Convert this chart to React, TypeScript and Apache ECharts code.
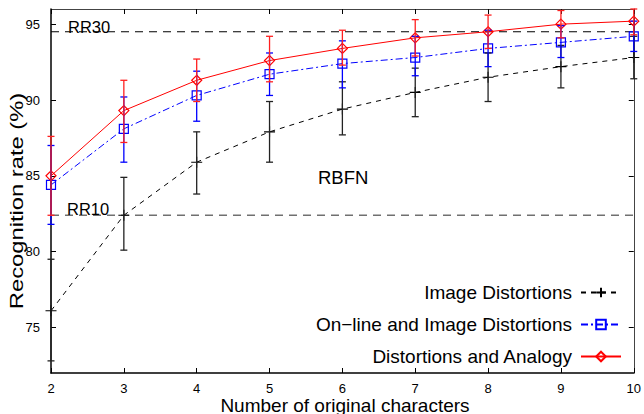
import React, { useEffect, useRef } from "react";
import * as echarts from "echarts";

const xs = [2, 3, 4, 5, 6, 7, 8, 9, 10];
const yTicks = [75, 80, 85, 90, 95];

const imgMean = [76.1, 82.4, 85.9, 87.9, 89.4, 90.5, 91.5, 92.2, 92.8];
const imgLo = [72.8, 80.1, 83.8, 85.9, 87.7, 88.9, 89.9, 90.8, 91.4];
const imgHi = [79.5, 84.9, 87.9, 89.9, 91.2, 92.1, 93.1, 93.6, 94.2];

const onlMean = [84.4, 88.1, 90.3, 91.7, 92.4, 92.8, 93.4, 93.8, 94.2];
const onlLo = [81.8, 85.9, 88.6, 90.3, 90.8, 91.6, 92.2, 92.8, 93.2];
const onlHi = [87.0, 90.2, 91.9, 93.1, 93.9, 94.2, 94.6, 94.9, 95.2];

const anaMean = [85.0, 89.3, 91.3, 92.6, 93.4, 94.1, 94.5, 95.0, 95.2];
const anaLo = [82.4, 87.2, 89.9, 91.2, 92.3, 92.9, 93.4, 94.1, 94.3];
const anaHi = [87.6, 91.3, 92.7, 94.2, 94.6, 95.3, 95.6, 95.9, 96.0];

const rr30 = 94.5;
const rr10 = 82.4;

const names = [
  "Image Distortions",
  "On\u2212line and Image Distortions",
  "Distortions and Analogy",
];

const FONT = "'Liberation Sans', Arial, Helvetica, sans-serif";

function errSeries(lo: number[], hi: number[], color: string, z: number) {
  return {
    type: "custom",
    clip: false,
    z,
    silent: true,
    renderItem: (_p: any, api: any) => {
      const x = api.value(0);
      const a = api.coord([x, api.value(1)]);
      const b = api.coord([x, api.value(2)]);
      const w = 3.5;
      const st = { stroke: color, lineWidth: 1.3 };
      return {
        type: "group",
        children: [
          { type: "line", shape: { x1: a[0], y1: a[1], x2: b[0], y2: b[1] }, style: st },
          { type: "line", shape: { x1: a[0] - w, y1: a[1], x2: a[0] + w, y2: a[1] }, style: st },
          { type: "line", shape: { x1: b[0] - w, y1: b[1], x2: b[0] + w, y2: b[1] }, style: st },
        ],
      };
    },
    encode: { x: 0, y: [1, 2] },
    data: xs.map((x, i) => [x, lo[i], hi[i]]),
  };
}

export default function App() {
  const ref = useRef<HTMLDivElement>(null);
  useEffect(() => {
    const chart = echarts.init(ref.current!, null, { renderer: "svg" });
    const axisLine = { show: true, lineStyle: { color: "#000", width: 1.5 } };
    const option: any = {
      animation: false,
      backgroundColor: "#fff",
      grid: { left: 51, right: 7, top: 9, bottom: 41 },
      xAxis: [
        {
          type: "value",
          min: 2,
          max: 10,
          interval: 1,
          axisLine,
          axisTick: { inside: true, length: 5, lineStyle: { color: "#000" } },
          axisLabel: { color: "#000", fontSize: 13, lineHeight: 11, fontFamily: FONT, margin: 10 },
          splitLine: { show: false },
        },
        {
          type: "value",
          position: "top",
          min: 2,
          max: 10,
          interval: 1,
          axisLine: { show: true, lineStyle: { color: "#444", width: 1 } },
          axisTick: { inside: true, length: 5, lineStyle: { color: "#000" } },
          axisLabel: { show: false },
          splitLine: { show: false },
        },
      ],
      yAxis: [
        {
          type: "value",
          min: 72,
          max: 96,
          axisLine,
          axisTick: { inside: true, length: 5, customValues: yTicks, lineStyle: { color: "#000" } },
          axisLabel: { customValues: yTicks, color: "#000", fontSize: 13, fontFamily: FONT, margin: 11 },
          splitLine: { show: false },
        },
        {
          type: "value",
          position: "right",
          min: 72,
          max: 96,
          axisLine: { show: true, lineStyle: { color: "#444", width: 1 } },
          axisTick: { inside: true, length: 5, customValues: yTicks, lineStyle: { color: "#000" } },
          axisLabel: { show: false },
          splitLine: { show: false },
        },
      ],
      legend: {
        data: names,
        orient: "vertical",
        align: "right",
        right: 22,
        top: 283,
        itemWidth: 40,
        itemHeight: 12,
        itemGap: 13,
        padding: 0,
        textStyle: { color: "#000", fontSize: 19, fontFamily: FONT, lineHeight: 19, padding: [0, 4, 0, 0] },
      },
      series: [
        {
          name: "RR30",
          type: "line",
          data: [[2, rr30], [10, rr30]],
          symbol: "none",
          silent: true,
          lineStyle: { color: "#000", width: 1.2, type: [8, 6] },
          z: 1,
        },
        {
          name: "RR10",
          type: "line",
          data: [[2, rr10], [10, rr10]],
          symbol: "none",
          silent: true,
          lineStyle: { color: "#707070", width: 1.5, type: [8, 6] },
          z: 1,
        },
        {
          name: names[0],
          type: "line",
          data: xs.map((x, i) => [x, imgMean[i]]),
          symbol: "path://M0,5L10,5M5,0L5,10",
          symbolSize: 11,
          itemStyle: { color: "none", borderColor: "#000", borderWidth: 1.1 },
          lineStyle: { color: "#000", width: 1, type: [5, 5] },
          z: 3,
        },
        {
          name: names[1],
          type: "line",
          data: xs.map((x, i) => [x, onlMean[i]]),
          symbol: "rect",
          symbolSize: 9,
          itemStyle: { color: "none", borderColor: "#0000ff", borderWidth: 1.2 },
          lineStyle: { color: "#0000ff", width: 1, type: [7, 3, 2, 3] },
          z: 4,
        },
        {
          name: names[2],
          type: "line",
          data: xs.map((x, i) => [x, anaMean[i]]),
          symbol: "diamond",
          symbolSize: [10, 10],
          itemStyle: { color: "none", borderColor: "#ff0000", borderWidth: 1.2 },
          lineStyle: { color: "#ff0000", width: 1 },
          z: 5,
        },
        errSeries(imgLo, imgHi, "#222", 6),
        errSeries(onlLo, onlHi, "#0000ff", 7),
        errSeries(anaLo, anaHi, "#ff2020", 8),
      ],
      graphic: [
        { type: "text", left: 68, top: 18, style: { text: "RR30", fontSize: 16.5, fontFamily: FONT, fill: "#000" }, z: 20 },
        { type: "text", left: 67, top: 200, style: { text: "RR10", fontSize: 16.5, fontFamily: FONT, fill: "#000" }, z: 20 },
        { type: "text", left: 318, top: 168, style: { text: "RBFN", fontSize: 18.5, fontFamily: FONT, fill: "#000" }, z: 20 },
        {
          type: "text",
          x: 345,
          y: 405,
          style: { text: "Number of original characters", fontSize: 19, lineHeight: 15, fontFamily: FONT, fill: "#000", align: "center", verticalAlign: "middle" },
          z: 20,
        },
        {
          type: "text",
          x: 17,
          y: 201,
          rotation: Math.PI / 2,
          scaleX: 1.25,
          style: { text: "Recognition rate (%)", fontSize: 19, fontFamily: FONT, fill: "#000", align: "center", verticalAlign: "middle" },
          z: 20,
        },
      ],
    };
    chart.setOption(option);
    return () => chart.dispose();
  }, []);
  return <div ref={ref} style={{ width: 644, height: 414, position: "absolute", left: 0, top: 0 }} />;
}
